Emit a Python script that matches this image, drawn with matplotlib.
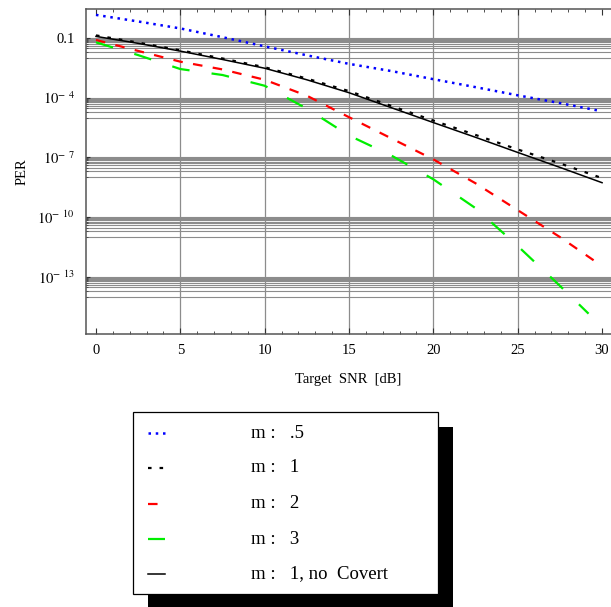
import numpy as np
import matplotlib
matplotlib.use('Agg')
import matplotlib.pyplot as plt
from matplotlib.patches import Rectangle
from matplotlib.lines import Line2D

plt.rcParams['font.family'] = ['Liberation Serif', 'DejaVu Serif']
plt.rcParams['mathtext.fontset'] = 'stix'

# ---- data: log10(PER) ----
snr = [0, 2.5, 5, 7.5, 10, 12.5, 15, 17.5, 20, 22.5, 25, 27.5, 30]
snr_blue = [0, 2.5, 5, 7.5, 10, 12.5, 15, 17.5, 20, 22.5, 25, 27.5, 29.8]
snr_green = [0, 2.5, 5, 7.5, 10, 12.5, 15, 17.5, 20, 22.5, 25, 27.5, 29.2]

logper_m05 = [0.16, -0.17, -0.52, -0.96, -1.42, -1.87, -2.30, -2.66, -3.07, -3.47, -3.88, -4.27, -4.65]
logper_m1 = [-0.87, -1.23, -1.62, -2.03, -2.47, -3.04, -3.67, -4.41, -5.15, -5.87, -6.60, -7.30, -8.04]
logper_m2 = [-1.10, -1.65, -2.19, -2.58, -3.10, -3.90, -4.98, -6.04, -7.10, -8.30, -9.65, -11.00, -12.46]
logper_m3 = [-1.22, -1.86, -2.56, -2.86, -3.40, -4.55, -5.90, -6.90, -8.10, -9.55, -11.45, -13.45, -14.85]
logper_nocov = [-0.92, -1.27, -1.66, -2.08, -2.52, -3.10, -3.75, -4.50, -5.25, -5.99, -6.75, -7.50, -8.27]

legend_labels = ['m :   .5', 'm :   1', 'm :   2', 'm :   3', 'm :   1, no  Covert']
ytick_exps = [-1, -4, -7, -10, -13]
ytick_labels = ['0.1', r'$10^{-\ \,4}$', r'$10^{-\ \,7}$', r'$10^{-\ \,10}$', r'$10^{-\ \,13}$']

# line styles (blue dots, black short dashes, red dashes, green long dashes, black solid)
styles = [
    dict(color='#0000ff', lw=1.8, ls=(0, (1.0, 1.9))),
    dict(color='black', lw=1.6, ls=(0, (1.6, 3.6))),
    dict(color='#ff0000', lw=1.6, ls=(0, (4.3, 4.7))),
    dict(color='#00ee00', lw=1.6, ls=(0, (8.0, 10.0))),
    dict(color='black', lw=1.1, ls='-'),
]

fig = plt.figure(figsize=(6.11, 6.07), dpi=100)
ax = fig.add_axes([0.1408, 0.4498, 0.8592, 0.5354])
ax.set_yscale('log')

series = [(snr_blue, logper_m05), (snr, logper_m1), (snr, logper_m2),
          (snr_green, logper_m3), (snr, logper_nocov)]

# grid first so curves sit on top
for k in ytick_exps:
    for m in range(1, 11):
        ax.axhline(m * 10.0 ** (k - 1), color='#8c8c8c', lw=0.8, zorder=1)
for xv in [5, 10, 15, 20, 25]:
    ax.axvline(xv, color='#8c8c8c', lw=0.9, zorder=1)

for (xs, ys), st in zip(series, styles):
    ax.plot(xs, 10.0 ** np.array(ys), color=st['color'], lw=st['lw'],
            linestyle=st['ls'], dash_capstyle='butt', zorder=3)

ax.set_xlim(-0.59, 30.53)
ax.set_ylim(10 ** -15.87, 10 ** 0.457)

# ---- ticks ----
ax.set_xticks([0, 5, 10, 15, 20, 25, 30])
ax.set_xticks(np.arange(0, 31, 1), minor=True)
ax.set_yticks([10.0 ** k for k in ytick_exps])
ax.set_yticklabels(ytick_labels)
ax.set_yticks([m * 10.0 ** (k - 1) for k in ytick_exps for m in range(1, 10)],
              minor=True)
ax.yaxis.set_minor_formatter(plt.NullFormatter())
ax.tick_params(which='both', direction='in', top=True, right=False,
               labelsize=10.5, color='#333333')
ax.tick_params(axis='x', which='major', length=4, width=0.8, pad=7)
ax.tick_params(axis='x', which='minor', length=2.5, width=0.6)
ax.tick_params(axis='y', which='major', length=3, width=0.8, pad=8)
ax.tick_params(axis='y', which='minor', length=1.5, width=0.5)

for side in ['left', 'bottom', 'top']:
    ax.spines[side].set_color('#555555')
    ax.spines[side].set_linewidth(1.1)
ax.spines['right'].set_visible(False)

ax.set_xlabel('Target  SNR  [dB]', fontsize=10.5, labelpad=12)
ax.set_ylabel('PER', fontsize=10.5, labelpad=6.5)

# ---- legend box with black drop shadow ----
W, H = 611.0, 607.0
fig.patches.append(Rectangle((148 / W, -0.02), (453 - 148) / W, (607 - 427) / H + 0.02,
                             transform=fig.transFigure, facecolor='black',
                             edgecolor='none', zorder=1))
fig.patches.append(Rectangle((132.7 / W, 1 - 594 / H), (438 - 132.7) / W, (594 - 411.7) / H,
                             transform=fig.transFigure, facecolor='white',
                             edgecolor='black', lw=0.9, zorder=2))

entry_y = [433, 468, 504, 539, 574]
for lab, st, yy in zip(legend_labels, styles, entry_y):
    yf = 1 - yy / H
    fig.lines.append(Line2D([148 / W, 165 / W], [yf, yf], transform=fig.transFigure,
                            color=st['color'], lw=st['lw'], linestyle=st['ls'],
                            dash_capstyle='butt', zorder=3))
    fig.text(251 / W, yf, lab, fontsize=13.5, va='center', ha='left', zorder=3)

fig.savefig('out.png', dpi=100, facecolor='white')
